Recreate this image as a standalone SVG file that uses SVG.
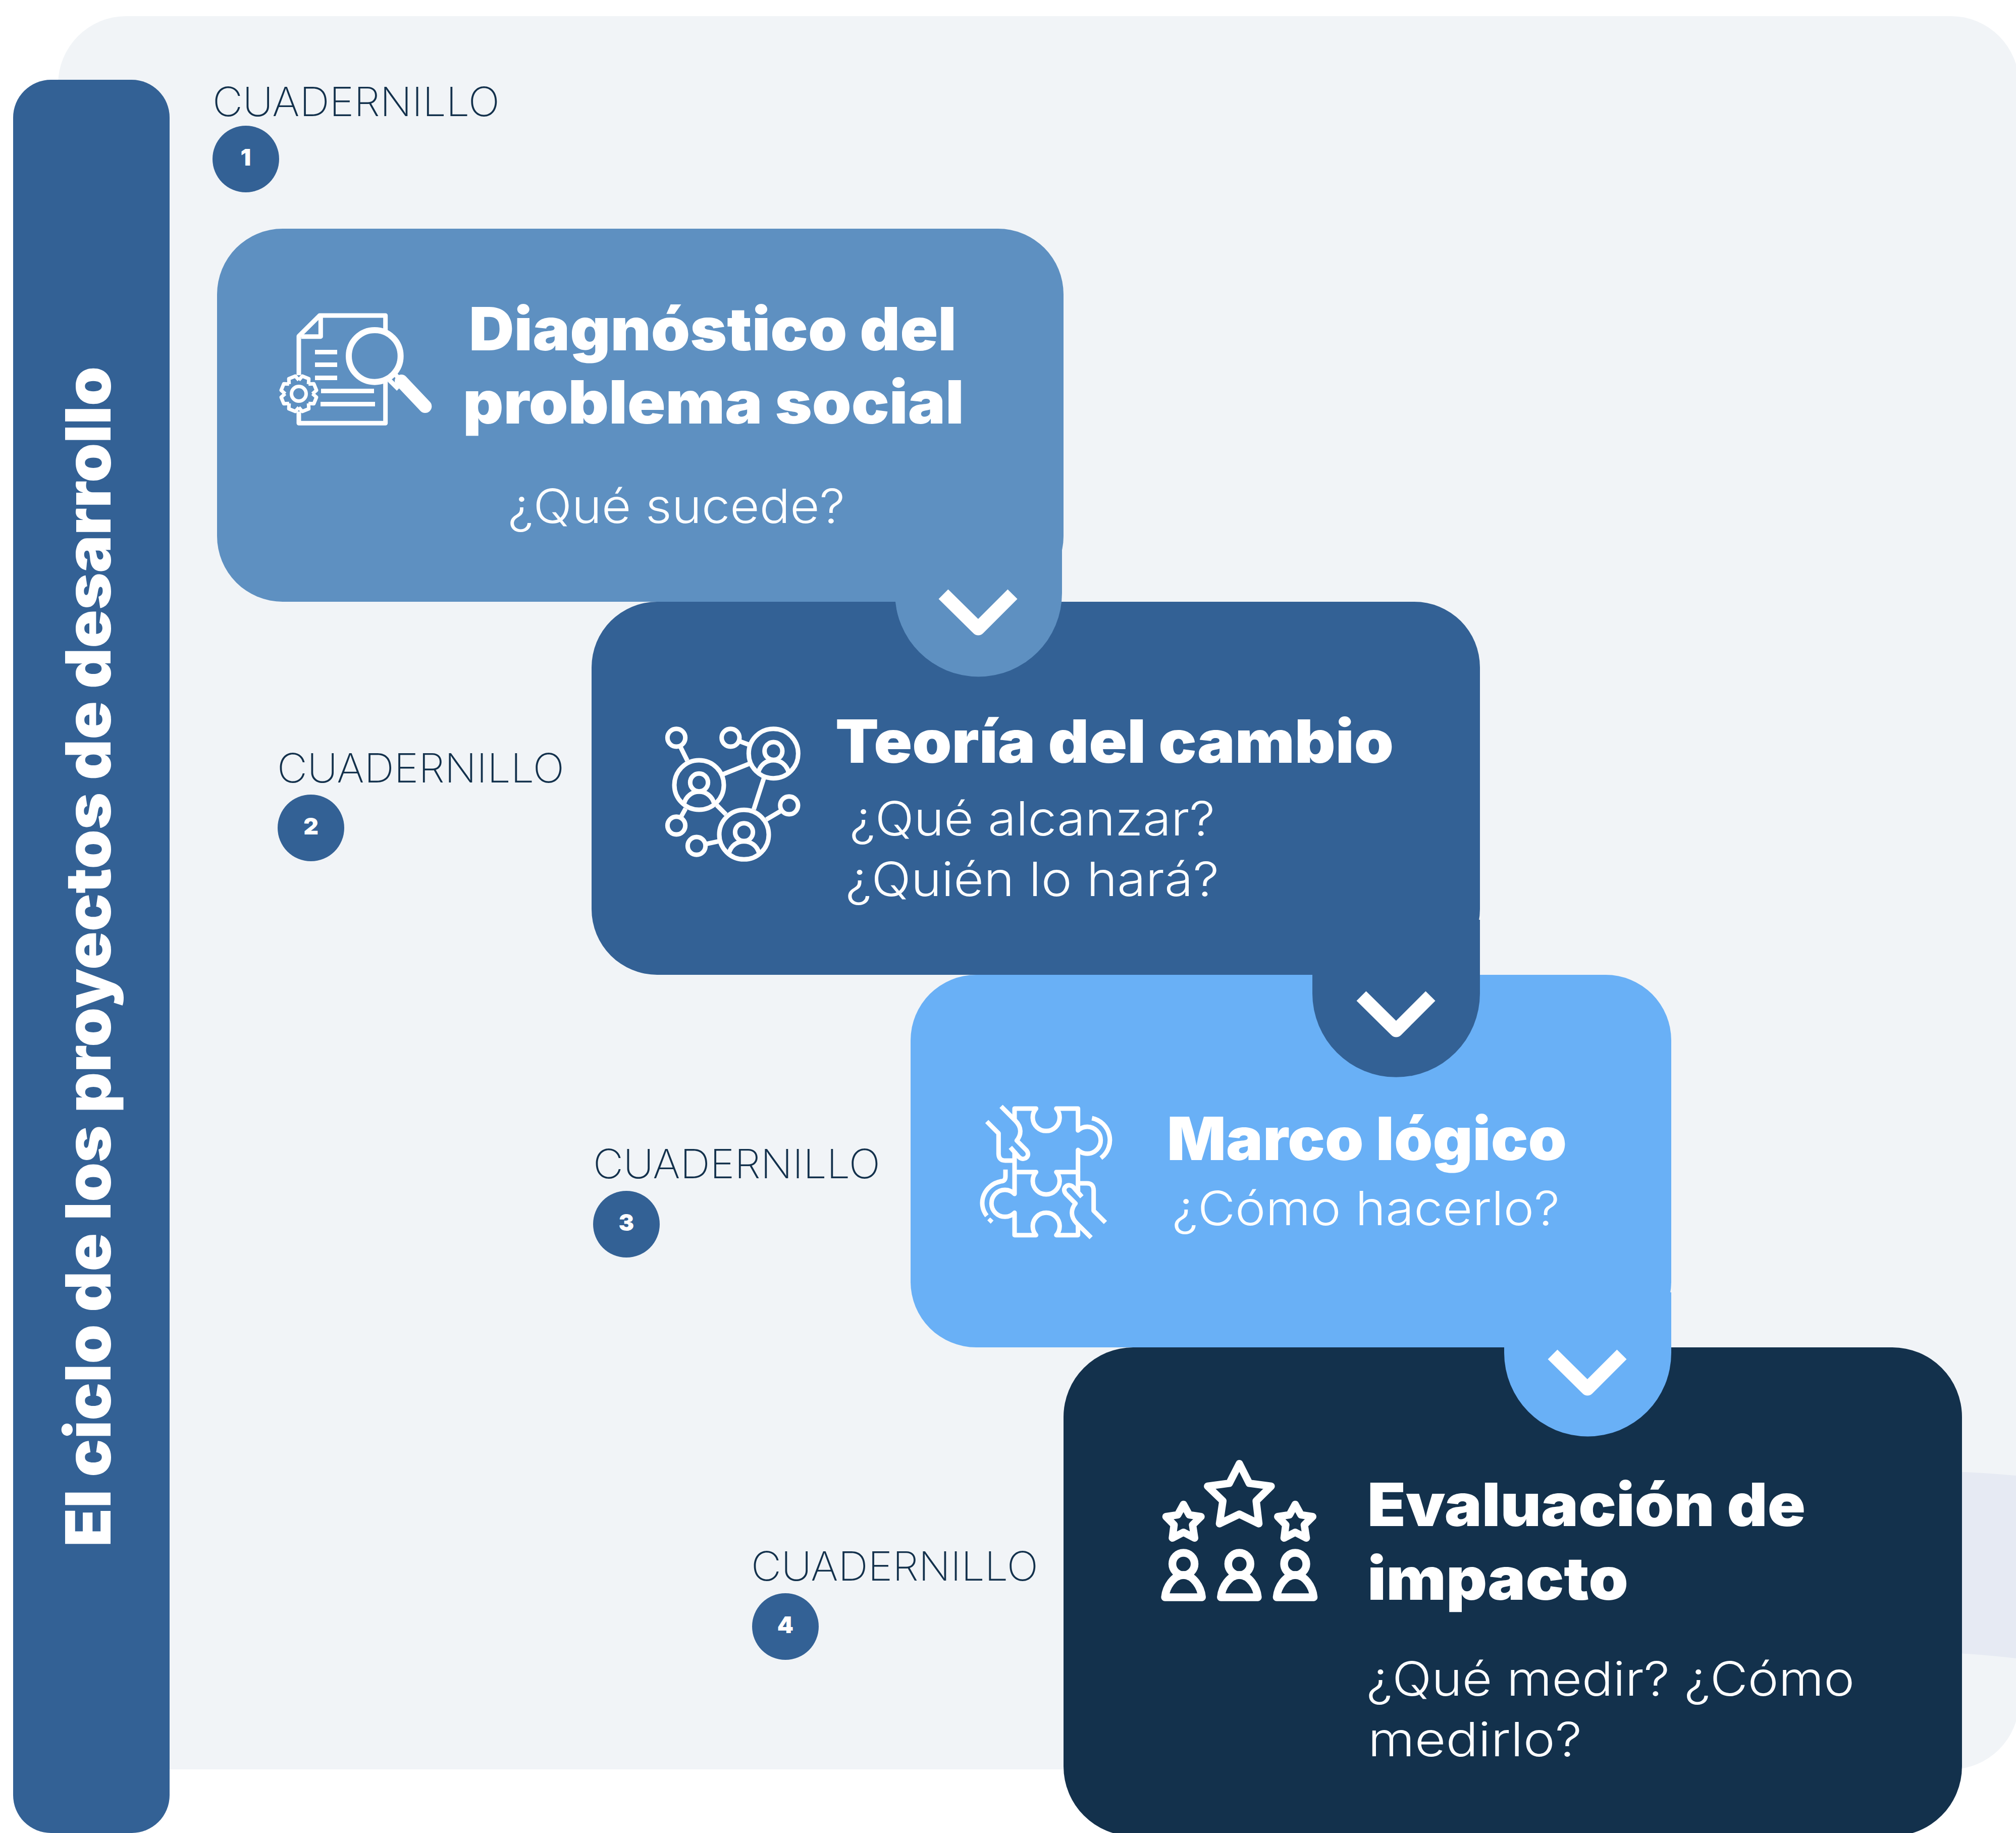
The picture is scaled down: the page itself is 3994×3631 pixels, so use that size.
<svg xmlns="http://www.w3.org/2000/svg" width="3994" height="3631" viewBox="0 0 3994 3631">
<style>
.t{font-family:"Inter","Liberation Sans",sans-serif;font-weight:900;fill:#fff;font-size:118px}
.s{font-family:"Inter","Liberation Sans",sans-serif;font-weight:300;fill:#fff;font-size:94px}
.c{font-family:"Inter","Liberation Sans",sans-serif;font-weight:200;fill:#13314c;font-size:80px}
.n{font-family:"Inter","Liberation Sans",sans-serif;font-weight:900;fill:#fff;font-size:46px;text-anchor:middle}
.ic{fill:none;stroke:#fff;stroke-linejoin:round}
.ch{fill:none;stroke:#fff;stroke-width:27;stroke-linejoin:round}
</style>
<defs>
<polyline id="tooth" points="-10.4,-25 -7,-35 7,-35 10.4,-25" fill="none" stroke="#fff" stroke-width="7" stroke-linejoin="round"/>
<g id="person">
<circle r="147" fill="none" stroke="#fff" stroke-width="27"/>
<circle cy="-15" r="53" fill="none" stroke="#fff" stroke-width="27"/>
<path d="M-90,112 C-78,66 -42,40 0,40 C42,40 78,66 90,112" fill="none" stroke="#fff" stroke-width="27"/>
</g>
<circle id="dot" r="53" fill="none" stroke="#fff" stroke-width="27"/>
<path id="sstar" d="M254,360 L288,422 L358,433 L308,482 L320,560 L254,526 L188,560 L198,482 L150,433 L220,422 Z" fill="none" stroke="#fff" stroke-width="44" stroke-linejoin="round"/>
<g id="p4" fill="none" stroke="#fff" stroke-width="46" stroke-linejoin="round">
<circle cx="254" cy="714" r="66"/>
<path d="M144,912 C150,850 195,780 254,780 C313,780 358,850 364,912 Z"/>
</g>
</defs>

<g id="background">
<rect x="115" y="32" width="3885" height="3473" rx="135" ry="135" fill="#f1f4f7"/>
<path d="M3700,2915 C3820,2912 3910,2915 3994,2923 V3285 C3910,3275 3820,3270 3700,3273 Z" fill="#e6eaf3"/>
</g>

<g id="side-bar">
<rect x="26" y="158" width="310" height="3473" rx="75" ry="75" fill="#336195"/>
<text class="t" transform="translate(219,3064) rotate(-90)" style="font-size:124px" textLength="2338" lengthAdjust="spacingAndGlyphs">El ciclo de los proyectos de desarrollo</text>
</g>

<g id="label-1">
<text class="c" x="421" y="230" textLength="569" lengthAdjust="spacingAndGlyphs">CUADERNILLO</text>
<circle cx="487" cy="315" r="66" fill="#336195"/><text class="n" x="487" y="328">1</text>
</g>
<g id="label-2">
<text class="c" x="549" y="1550" textLength="569" lengthAdjust="spacingAndGlyphs">CUADERNILLO</text>
<circle cx="616" cy="1640" r="66" fill="#336195"/><text class="n" x="616" y="1653">2</text>
</g>
<g id="label-3">
<text class="c" x="1175" y="2334" textLength="569" lengthAdjust="spacingAndGlyphs">CUADERNILLO</text>
<circle cx="1241" cy="2425" r="66" fill="#336195"/><text class="n" x="1241" y="2438">3</text>
</g>
<g id="label-4">
<text class="c" x="1488" y="3131" textLength="569" lengthAdjust="spacingAndGlyphs">CUADERNILLO</text>
<circle cx="1556" cy="3222" r="66" fill="#336195"/><text class="n" x="1556" y="3235">4</text>
</g>

<g id="node-4">
<rect x="2107" y="2669" width="1780" height="968" rx="138" ry="138" fill="#13314c"/>
<g transform="translate(2260,2860) scale(.33333)">
<path d="M586,118 L645,235 L775,252 L686,340 L702,475 L586,418 L468,475 L488,340 L397,252 L526,235 Z" fill="none" stroke="#fff" stroke-width="44" stroke-linejoin="round"/>
<use href="#sstar"/><use href="#sstar" x="664"/>
<use href="#p4"/><use href="#p4" x="332"/><use href="#p4" x="664"/>
</g>
<text class="t" x="2709" y="3023" textLength="868" lengthAdjust="spacingAndGlyphs">Evaluación de</text>
<text class="t" x="2709" y="3169" textLength="517" lengthAdjust="spacingAndGlyphs">impacto</text>
<text class="s" x="2707" y="3359" textLength="967" lengthAdjust="spacingAndGlyphs">¿Qué medir? ¿Cómo</text>
<text class="s" x="2710" y="3479" textLength="424" lengthAdjust="spacingAndGlyphs">medirlo?</text>
</g>

<g id="node-3">
<rect x="1804" y="1931" width="1507" height="738" rx="130" ry="130" fill="#69b0f6"/>
<g class="ic" transform="translate(1900,2150) scale(.33333)" stroke-width="27">
<path d="M330,205 V138 H458 A80,80 0 1 0 578,138 H707 V268 A80,80 0 1 1 707,384 V515 H578 A80,80 0 1 1 458,515 H330"/>
<path d="M330,390 V645 A80,80 0 1 0 330,757 V890 H458 A80,80 0 1 1 578,890 H707 V825"/>
<path d="M707,515 V640"/>
<path d="M165,215 L235,285 V405 Q235,447 275,447 H330"/>
<path d="M250,125 L335,210 C375,250 370,295 343,328 L400,385 C430,420 385,455 355,425 L305,368"/>
<path d="M870,815 L800,745 V625 Q800,582 760,582 H707"/>
<path d="M785,905 L700,820 C660,780 665,735 692,702 L635,645 C605,610 650,575 680,605 L730,662"/>
<path d="M790,195 A133,133 0 0 1 843,432"/>
<path d="M276,500 V540 Q276,570 250,570 C150,590 105,700 165,775"/>
<path d="M185,785 L205,803 L188,822 L168,802 Z" fill="#fff" stroke="none"/>
</g>
<text class="t" x="2312" y="2298" textLength="792" lengthAdjust="spacingAndGlyphs">Marco lógico</text>
<text class="s" x="2322" y="2427" textLength="768" lengthAdjust="spacingAndGlyphs">¿Cómo hacerlo?</text>
</g>

<g id="connector-3-4">
<path d="M2980,2560 H3311 V2680 A165.5,165.5 0 0 1 2980,2680 Z" fill="#69b0f6"/>
<polyline class="ch" points="3076,2683 3145,2751 3213,2683"/>
</g>

<g id="node-2">
<rect x="1172" y="1192" width="1760" height="739" rx="130" ry="130" fill="#336195"/>
<g transform="translate(1280,1400) scale(.33333)">
<use href="#person" x="315" y="465"/><use href="#person" x="757" y="278"/><use href="#person" x="582" y="760"/>
<use href="#dot" x="180" y="184"/><use href="#dot" x="502" y="184"/><use href="#dot" x="180" y="706"/><use href="#dot" x="300" y="827"/><use href="#dot" x="850" y="586"/>
<path d="M205,240 L245,320 M555,205 L610,225 M460,400 L610,340 M700,425 L640,610 M420,585 L475,640 M235,605 L210,650 M360,815 L430,800 M715,670 L800,620" fill="none" stroke="#fff" stroke-width="27"/>
</g>
<text class="t" x="1655" y="1511" textLength="1106" lengthAdjust="spacingAndGlyphs">Teoría del cambio</text>
<text class="s" x="1683" y="1655" textLength="724" lengthAdjust="spacingAndGlyphs">¿Qué alcanzar?</text>
<text class="s" x="1675" y="1775" textLength="740" lengthAdjust="spacingAndGlyphs">¿Quién lo hará?</text>
</g>

<g id="connector-2-3">
<path d="M2600,1822 H2932 V1968 A166,166 0 0 1 2600,1968 Z" fill="#336195"/>
<polyline class="ch" points="2697,1973 2766,2041 2834,1973"/>
</g>

<g id="node-1">
<rect x="430" y="453" width="1677" height="739" rx="130" ry="130" fill="#5e90c1"/>
<g transform="translate(500,560) scale(.33333)">
<g class="ic" stroke-width="27">
<path d="M276,550 V318 L400,195 H791 V285"/>
<path d="M791,590 V835 H276 V765"/>
<path d="M406,205 V320 H290"/>
<circle cx="727" cy="436" r="154" stroke-width="36"/>
<path d="M848,545 L900,597 M815,580 L868,632"/>
</g>
<path d="M885,585 L1027,735" stroke="#fff" stroke-width="78" stroke-linecap="round" fill="none"/>
<path d="M372,399 H504 V426 H372 Z M372,474 H504 V501 H372 Z M372,552 H504 V579 H372 Z M408,630 H723 V657 H408 Z M405,708 H729 V735 H405 Z" fill="#fff"/>
</g>
<g transform="translate(592,780)">
<use href="#tooth" transform="rotate(22.5)"/><use href="#tooth" transform="rotate(67.5)"/><use href="#tooth" transform="rotate(112.5)"/><use href="#tooth" transform="rotate(157.5)"/><use href="#tooth" transform="rotate(202.5)"/><use href="#tooth" transform="rotate(247.5)"/><use href="#tooth" transform="rotate(292.5)"/><use href="#tooth" transform="rotate(337.5)"/>
<circle r="14.5" fill="none" stroke="#fff" stroke-width="7"/>
</g>
<text class="t" x="929" y="694" textLength="966" lengthAdjust="spacingAndGlyphs">Diagnóstico del</text>
<text class="t" x="917" y="839" textLength="993" lengthAdjust="spacingAndGlyphs">problema social</text>
<text class="s" x="1006" y="1036" textLength="668" lengthAdjust="spacingAndGlyphs">¿Qué sucede?</text>
</g>

<g id="connector-1-2">
<path d="M1773,1083 H2104 V1175 A165.5,165.5 0 0 1 1773,1175 Z" fill="#5e90c1"/>
<polyline class="ch" points="1869,1177 1938,1245 2006,1177"/>
</g>
</svg>
